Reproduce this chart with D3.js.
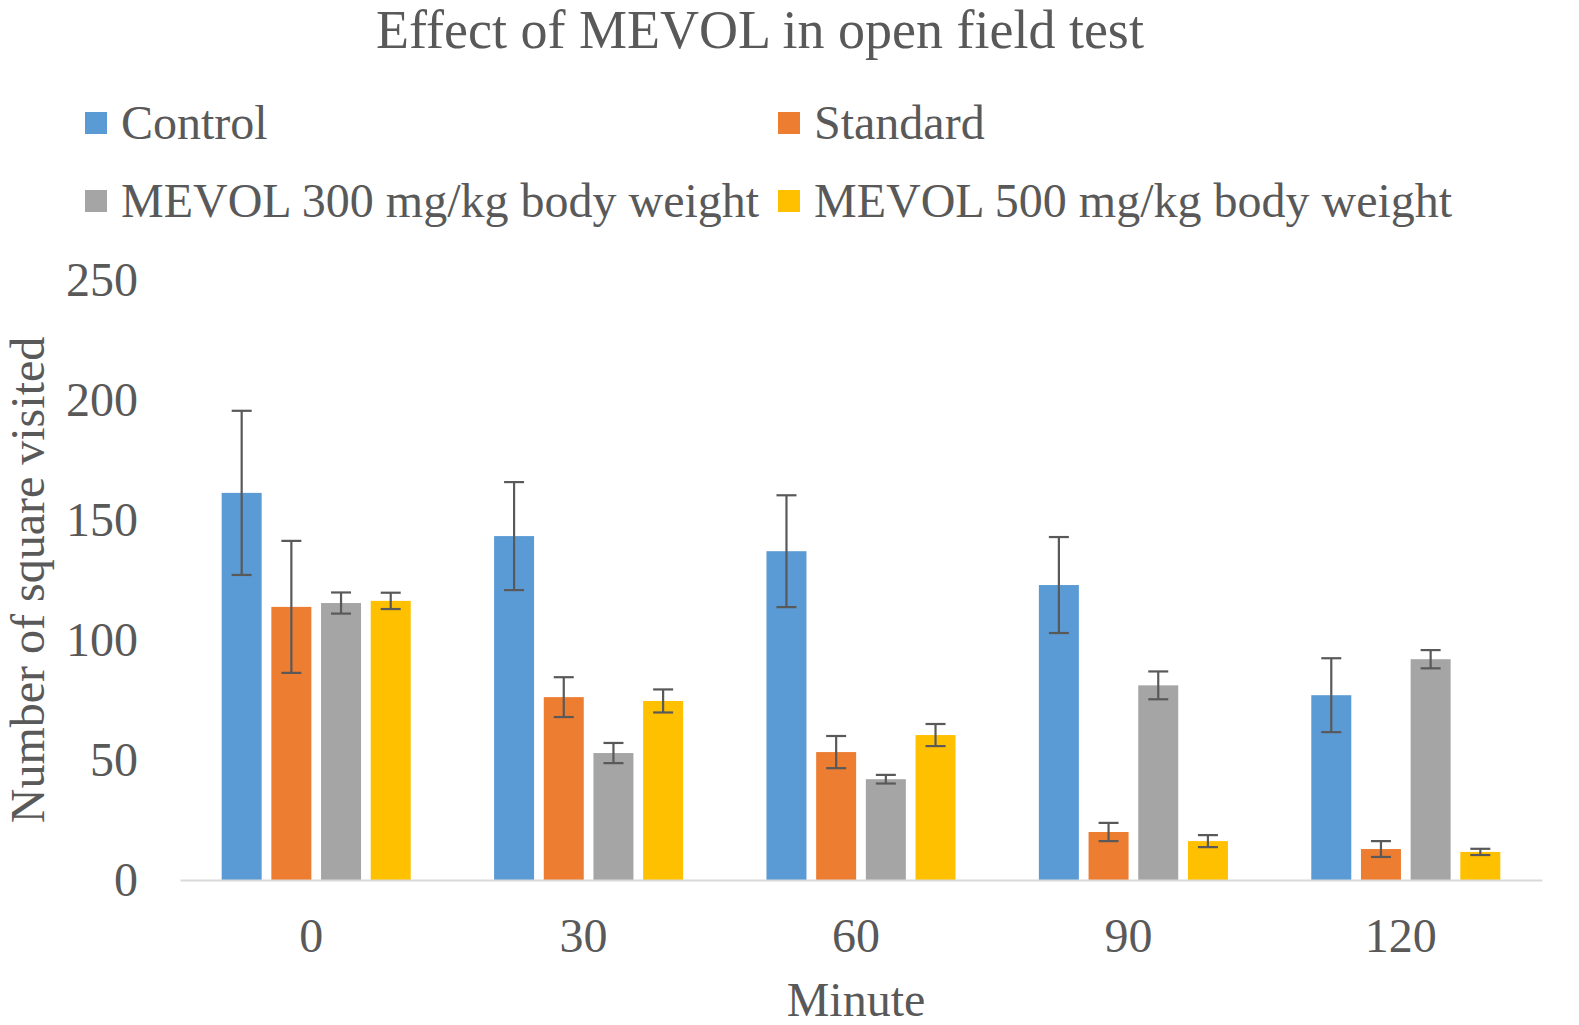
<!DOCTYPE html>
<html>
<head>
<meta charset="utf-8">
<script src="https://cdn.jsdelivr.net/npm/d3@7"></script>
<style>
  html, body { margin: 0; padding: 0; background: #fff; }
  text { font-family: "Liberation Serif", "Times New Roman", serif; fill: #595959; }
</style>
</head>
<body>
<div id="chart"></div>
<script>
"use strict";

const minutes = ["0", "30", "60", "90", "120"];
const seriesNames = [
  "Control",
  "Standard",
  "MEVOL 300 mg/kg body weight",
  "MEVOL 500 mg/kg body weight",
];
const seriesColors = ["#5b9bd5", "#ed7d31", "#a5a5a5", "#ffc000"];

// mean values per series, one per minute
const control = [161.3, 143.3, 137.0, 122.9, 77.0];
const standard = [113.8, 76.2, 53.3, 20.0, 12.9];
const mevol300 = [115.4, 52.9, 42.0, 81.1, 92.0];
const mevol500 = [116.3, 74.6, 60.4, 16.2, 11.7];

// error bar half-lengths
const controlErr = [34.2, 22.5, 23.3, 20.0, 15.4];
const standardErr = [27.5, 8.3, 6.7, 3.8, 3.3];
const mevol300Err = [4.4, 4.2, 1.8, 5.8, 3.8];
const mevol500Err = [3.4, 4.8, 4.6, 2.5, 1.3];

const yTicks = [0, 50, 100, 150, 200, 250];

const means = [control, standard, mevol300, mevol500];
const errs = [controlErr, standardErr, mevol300Err, mevol500Err];

const W = 1579;
const H = 1025;
const margin = { left: 180, right: 37, top: 280, bottom: 145 };

function draw() {
  const svg = d3
    .select("#chart")
    .append("svg")
    .attr("width", W)
    .attr("height", H);

  const x0 = d3
    .scaleBand()
    .domain(minutes)
    .range([margin.left, W - margin.right])
    .paddingInner(0.306)
    .paddingOuter(0.153);

  const x1 = d3
    .scaleBand()
    .domain(d3.range(seriesNames.length))
    .range([0, x0.bandwidth()])
    .paddingInner(0.195);

  const y = d3
    .scaleLinear()
    .domain([0, 250])
    .range([H - margin.bottom, margin.top]);

  // flatten into one record per bar
  const rows = [];
  minutes.forEach((m, i) => {
    seriesNames.forEach((s, j) => {
      rows.push({ minute: m, s: j, value: means[j][i], err: errs[j][i] });
    });
  });

  svg
    .append("g")
    .selectAll("rect")
    .data(rows)
    .enter()
    .append("rect")
    .attr("x", (d) => x0(d.minute) + x1(d.s))
    .attr("y", (d) => y(d.value))
    .attr("width", x1.bandwidth())
    .attr("height", (d) => y(0) - y(d.value))
    .attr("fill", (d) => seriesColors[d.s]);

  // error bars
  const capHalf = 10;
  const eb = svg
    .append("g")
    .attr("stroke", "#595959")
    .attr("stroke-width", 2.2)
    .selectAll("g")
    .data(rows)
    .enter()
    .append("g");
  const cx = (d) => x0(d.minute) + x1(d.s) + x1.bandwidth() / 2;
  eb.append("line")
    .attr("x1", cx)
    .attr("x2", cx)
    .attr("y1", (d) => y(d.value + d.err))
    .attr("y2", (d) => y(d.value - d.err));
  eb.append("line")
    .attr("x1", (d) => cx(d) - capHalf)
    .attr("x2", (d) => cx(d) + capHalf)
    .attr("y1", (d) => y(d.value + d.err))
    .attr("y2", (d) => y(d.value + d.err));
  eb.append("line")
    .attr("x1", (d) => cx(d) - capHalf)
    .attr("x2", (d) => cx(d) + capHalf)
    .attr("y1", (d) => y(d.value - d.err))
    .attr("y2", (d) => y(d.value - d.err));

  // x axis
  const xAxis = svg
    .append("g")
    .attr("transform", `translate(0,${y(0)})`)
    .call(d3.axisBottom(x0).tickSize(0).tickPadding(38));
  xAxis.select(".domain").attr("stroke", "#d9d9d9").attr("stroke-width", 2);
  xAxis
    .selectAll("text")
    .attr("font-size", "48px")
    .attr("fill", "#595959")
    .attr("dx", -5);

  // y axis, labels only
  const yAxis = svg
    .append("g")
    .attr("transform", `translate(${margin.left},0)`)
    .call(d3.axisLeft(y).tickValues(yTicks).tickSize(0).tickPadding(42));
  yAxis.select(".domain").remove();
  yAxis.selectAll("text").attr("font-size", "48px").attr("fill", "#595959");

  // titles
  svg
    .append("text")
    .attr("x", 760)
    .attr("y", 48)
    .attr("text-anchor", "middle")
    .attr("font-size", "54px")
    .text("Effect of MEVOL in open field test");

  svg
    .append("text")
    .attr("x", (margin.left + W - margin.right) / 2 - 5)
    .attr("y", 1016)
    .attr("text-anchor", "middle")
    .attr("font-size", "48px")
    .text("Minute");

  svg
    .append("text")
    .attr("transform", `translate(44,${(y(0) + y(250)) / 2}) rotate(-90)`)
    .attr("text-anchor", "middle")
    .attr("font-size", "48px")
    .text("Number of square visited");

  // legend, 2 x 2
  const legendX = [85, 778];
  const legendY = [123, 201];
  const lg = svg
    .append("g")
    .selectAll("g")
    .data(seriesNames)
    .enter()
    .append("g")
    .attr(
      "transform",
      (_, i) => `translate(${legendX[i % 2]},${legendY[Math.floor(i / 2)]})`
    );
  lg.append("rect")
    .attr("x", 0)
    .attr("y", -11)
    .attr("width", 22)
    .attr("height", 22)
    .attr("fill", (_, i) => seriesColors[i]);
  lg.append("text")
    .attr("x", 36)
    .attr("y", 16)
    .attr("font-size", "48px")
    .text((d) => d);
}

draw();
</script>
</body>
</html>
